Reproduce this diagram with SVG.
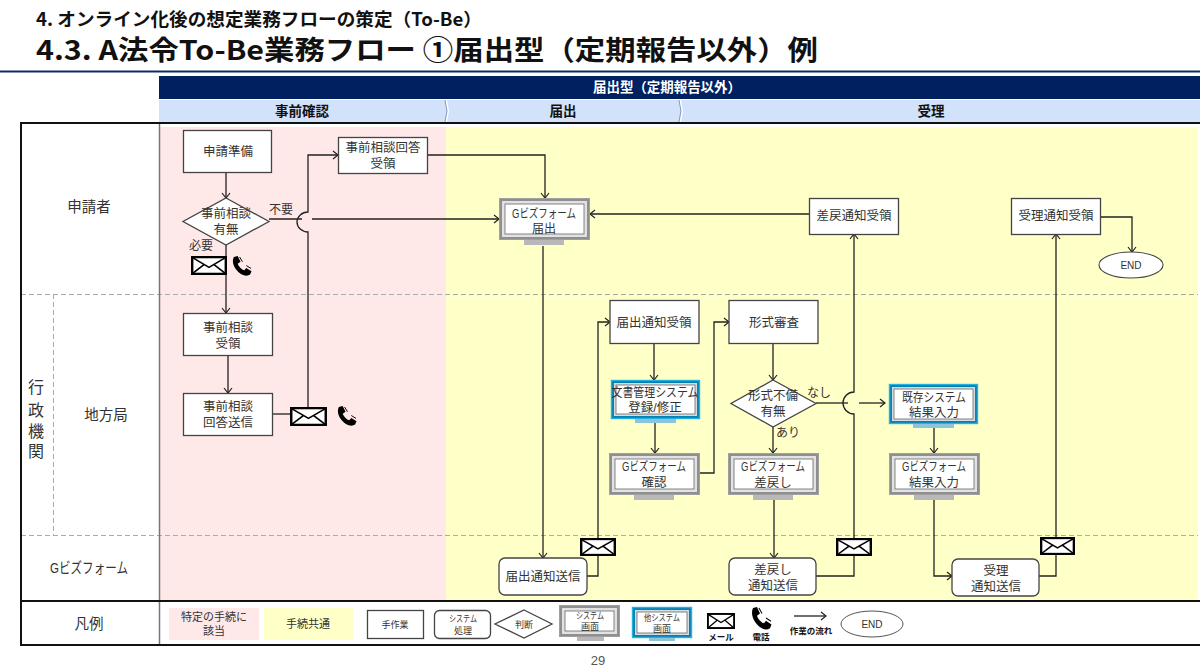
<svg xmlns="http://www.w3.org/2000/svg" xmlns:xlink="http://www.w3.org/1999/xlink" width="1200" height="669" viewBox="0 0 1200 669">
<style>
text{font-family:"Liberation Sans","Noto Sans CJK JP",sans-serif;fill:#333;text-anchor:middle;font-size:12.5px}
.lane{font-size:14.500px}
.gov{font-size:16px}
.b{font-weight:700;fill:#111;font-size:13.500px}
.sm{font-size:9px}
.tiny{font-size:8.500px;font-weight:700;fill:#111}
.t{font-family:"Noto Sans CJK JP","Noto Sans",sans-serif;text-anchor:start;font-weight:700;fill:#111}
.box{fill:#fff;stroke:#444;stroke-width:1.3}
.dash{fill:none;stroke:#aaa;stroke-width:1;stroke-dasharray:5 3}
.line{fill:none;stroke:#222;stroke-width:1.3}
.arr{marker-end:url(#a)}
.g1{fill:#8f8f8f;stroke:#a0a0a0;stroke-width:1}
.g2{fill:#e2e2e2}
.g3{fill:#fff;stroke:#666;stroke-width:.8}
.gs{fill:#b8b8b8}
.c1{fill:#0b7fb0;stroke:#1fb4e4;stroke-width:1.4}
.c2{fill:#d5dde2}
.cs{fill:#8cc4de}
.frame{fill:none;stroke:#111;stroke-width:2}
</style>
<defs>
<marker id="a" markerUnits="userSpaceOnUse" markerWidth="9" markerHeight="10" refX="7" refY="5" orient="auto"><path d="M2,1 L7,5 L2,9" fill="none" stroke="#222" stroke-width="1.2"/></marker>
<symbol id="mail" viewBox="0 0 36 20" preserveAspectRatio="none"><rect x="1.200" y="1.200" width="33.600" height="17.600" fill="#fff" stroke="#000" stroke-width="2.400"/><path d="M2,2 L18,12 L34,2 M2,18 L13,9 M34,18 L23,9" fill="none" stroke="#000" stroke-width="1.600"/></symbol>
<symbol id="phone" viewBox="0 0 22 22" preserveAspectRatio="none"><path d="M3,1 L7,0 L10,6 L7,8 C8,11 11,14 14,15 L16,12.500 L21.500,16 L20,19.500 C16,22 10,20 6,15 C2,10 1,5 3,1 Z" fill="#000"/><path d="M9,1 L12,6 M16,10 L21,13" stroke="#000" stroke-width="1" fill="none"/></symbol>
</defs>

<rect width="1200" height="669" fill="#fff"/>
<g id="title">
<text class="t" x="36" y="26" style="font-size:18px" textLength="446" lengthAdjust="spacingAndGlyphs">4. オンライン化後の想定業務フローの策定（To-Be）</text>
<text class="t" x="36" y="60" style="font-size:27px" textLength="782" lengthAdjust="spacingAndGlyphs">4.3. A法令To-Be業務フロー ①届出型（定期報告以外）例</text>
<rect x="0" y="70.500" width="1200" height="2" fill="#0a2a66"/>
</g>

<g id="header">
<rect x="159" y="76" width="1041" height="23" fill="#002060"/>
<text x="667" y="92" class="b" style="fill:#fff" textLength="148">届出型（定期報告以外）</text>
<path d="M159,100 H445 L447,111 L445,122 H159 Z" fill="#d3e2fb"/>
<path d="M447,100 H679 L681,111 L679,122 H447 L449,111 Z" fill="#d3e2fb"/>
<path d="M681,100 H1200 V122 H681 L683,111 Z" fill="#d3e2fb"/>
<path d="M445,100 L447,111 L445,122 M679,100 L681,111 L679,122" fill="none" stroke="#6b7fa8" stroke-width=".8"/>
<text x="302" y="116" class="b">事前確認</text>
<text x="563" y="116" class="b">届出</text>
<text x="931" y="116" class="b">受理</text>
</g>

<g id="background">
<rect x="160" y="127" width="286" height="473" fill="#fee8e8"/>
<rect x="446" y="127" width="752" height="473" fill="#ffffc8"/>
<path class="dash" d="M21,294.500 H1198 M21,535.500 H1198 M53.500,294 V535"/>
<path d="M159.500,123 V645" stroke="#777" stroke-width="1.500" fill="none"/>
<path class="frame" d="M1200,123 H21 V645 H1200 M21,601 H1200"/>
</g>

<g id="lanes">
<text class="lane" x="89" y="212">申請者</text>
<text class="lane" x="106" y="420">地方局</text>
<text class="gov" x="36" y="393">行</text>
<text class="gov" x="36" y="416">政</text>
<text class="gov" x="36" y="437">機</text>
<text class="gov" x="36" y="457">関</text>
<text class="lane" x="89" y="573" textLength="78" lengthAdjust="spacingAndGlyphs">Gビズフォーム</text>
<text class="lane" x="89" y="629">凡例</text>
</g>

<g id="connectors">
<path class="line arr" d="M226,173 V198"/>
<path class="line arr" d="M226,245 V313"/>
<path class="line" d="M269,219 H302"/>
<path class="line arr" d="M312,219 H499"/>
<path class="line arr" d="M308,407 V232 A11,10 0 0 1 308,212 V155 H338"/>
<path class="line arr" d="M228,356 V393"/>
<path class="line" d="M272,414 H290"/>
<path class="line arr" d="M428,155 H545 V198"/>
<path class="line arr" d="M809,214 H590"/>
<path class="line arr" d="M543,246 V558"/>
<path class="line arr" d="M587,576 H598 V322 H610"/>
<path class="line arr" d="M654,343 V380"/>
<path class="line arr" d="M655,423 V453"/>
<path class="line arr" d="M700,473 H714 V322 H729"/>
<path class="line arr" d="M773,343 V380"/>
<path class="line arr" d="M773,427 V453"/>
<path class="line" d="M816,403 H848"/>
<path class="line arr" d="M859,403 H885"/>
<path class="line arr" d="M774,500 V558"/>
<path class="line arr" d="M816,576 H854 V414 A11,11 0 0 1 854,392 V234"/>
<path class="line arr" d="M934,428 V453"/>
<path class="line arr" d="M934,500 V576 H952"/>
<path class="line arr" d="M1039,576 H1056 V234"/>
<path class="line arr" d="M1100,217 H1132 V252"/>
</g>

<g id="prep"><rect class="box" x="183.500" y="130.500" width="88" height="42"/><text x="228" y="156">申請準備</text></g>
<g id="reply-recv"><rect class="box" x="338.500" y="137.500" width="89" height="36"/><text x="383" y="152">事前相談回答<tspan x="383" dy="16">受領</tspan></text></g>
<g id="d-consult"><path class="box" d="M226,198 L269,221.500 L226,245 L183,221.500 Z"/><text x="226" y="218">事前相談<tspan x="226" dy="16">有無</tspan></text></g>
<g id="form-submit"><rect class="g1" x="499.500" y="198.500" width="90" height="41"/><rect class="g2" x="502" y="201" width="85" height="36"/><rect class="g3" x="505" y="204" width="79" height="30"/><rect class="gs" x="524" y="240" width="40" height="5"/><text x="544" y="218" textLength="64" lengthAdjust="spacingAndGlyphs">Gビズフォーム</text><text x="544" y="233" style="font-size:12px">届出</text></g>
<g id="return-recv"><rect class="box" x="809.500" y="198.500" width="89" height="36"/><text x="854" y="220">差戻通知受領</text></g>
<g id="accept-recv"><rect class="box" x="1011.500" y="198.500" width="89" height="36"/><text x="1056" y="220">受理通知受領</text></g>
<g id="end"><ellipse cx="1131" cy="265" rx="32" ry="13" fill="#fff" stroke="#444" stroke-width="1.100"/><text x="1131" y="269" style="font-size:10px">END</text></g>
<g id="consult-recv"><rect class="box" x="183.500" y="313.500" width="89" height="42"/><text x="228" y="332">事前相談<tspan x="228" dy="16">受領</tspan></text></g>
<g id="consult-reply"><rect class="box" x="183.500" y="393.500" width="89" height="42"/><text x="228" y="411">事前相談<tspan x="228" dy="16">回答送信</tspan></text></g>
<g id="notice-recv"><rect class="box" x="610" y="300.500" width="89" height="43"/><text x="654" y="327">届出通知受領</text></g>
<g id="check"><rect class="box" x="729" y="300.500" width="89" height="43"/><text x="774" y="327">形式審査</text></g>
<g id="docsys"><rect class="c1" x="611.500" y="380.500" width="88" height="38"/><rect class="c2" x="614" y="383" width="83" height="33"/><rect class="g3" x="616" y="385" width="79" height="29"/><rect class="cs" x="635" y="419" width="41" height="4"/><text x="655" y="397" textLength="87" lengthAdjust="spacingAndGlyphs">文書管理システム</text><text x="655" y="412">登録/修正</text></g>
<g id="d-check"><path class="box" d="M773,380 L816,403.500 L773,427 L731,403.500 Z"/><text x="773" y="400">形式不備<tspan x="773" dy="16">有無</tspan></text></g>
<g id="existing1"><rect class="c1" x="889.500" y="384.500" width="88" height="39"/><rect class="c2" x="892" y="387" width="83" height="34"/><rect class="g3" x="894" y="389" width="79" height="30"/><rect class="cs" x="913" y="424" width="41" height="4"/><text x="934" y="402" textLength="64" lengthAdjust="spacingAndGlyphs">既存システム</text><text x="934" y="417">結果入力</text></g>
<g id="form-confirm"><rect class="g1" x="609.500" y="453.500" width="90" height="41"/><rect class="g2" x="612" y="456" width="85" height="36"/><rect class="g3" x="615" y="459" width="79" height="30"/><rect class="gs" x="634" y="495" width="40" height="5"/><text x="654" y="471" textLength="64" lengthAdjust="spacingAndGlyphs">Gビズフォーム</text><text x="654" y="487">確認</text></g>
<g id="form-return"><rect class="g1" x="728.500" y="453.500" width="90" height="41"/><rect class="g2" x="731" y="456" width="85" height="36"/><rect class="g3" x="734" y="459" width="79" height="30"/><rect class="gs" x="753" y="495" width="40" height="5"/><text x="773" y="471" textLength="64" lengthAdjust="spacingAndGlyphs">Gビズフォーム</text><text x="773" y="487">差戻し</text></g>
<g id="form-result"><rect class="g1" x="889.500" y="453.500" width="90" height="41"/><rect class="g2" x="892" y="456" width="85" height="36"/><rect class="g3" x="895" y="459" width="79" height="30"/><rect class="gs" x="914" y="495" width="40" height="5"/><text x="934" y="471" textLength="64" lengthAdjust="spacingAndGlyphs">Gビズフォーム</text><text x="934" y="487">結果入力</text></g>
<g id="notice-send"><rect class="box" x="499" y="558" width="88" height="37" rx="6"/><text x="543" y="581">届出通知送信</text></g>
<g id="return-send"><rect class="box" x="729" y="558" width="87" height="37" rx="6"/><text x="773" y="574">差戻し<tspan x="773" dy="15.500">通知送信</tspan></text></g>
<g id="accept-send"><rect class="box" x="952" y="559" width="87" height="37" rx="6"/><text x="996" y="575">受理<tspan x="996" dy="15.500">通知送信</tspan></text></g>

<g id="labels">
<text x="281" y="214" style="font-size:12px">不要</text>
<text x="201" y="250" style="font-size:12px">必要</text>
<text x="819" y="397" style="font-size:12px">なし</text>
<text x="788" y="437" style="font-size:12px">あり</text>
</g>
<g id="icons">
<use xlink:href="#mail" href="#mail" x="191" y="256" width="36" height="19"/>
<use xlink:href="#phone" href="#phone" x="231" y="256" width="21" height="21"/>
<use xlink:href="#mail" href="#mail" x="290" y="407" width="37" height="19"/>
<use xlink:href="#phone" href="#phone" x="336" y="406" width="21" height="21"/>
<use xlink:href="#mail" href="#mail" x="580" y="538" width="36" height="18"/>
<use xlink:href="#mail" href="#mail" x="836" y="538" width="36" height="18"/>
<use xlink:href="#mail" href="#mail" x="1040" y="537" width="35" height="18"/>
</g>

<g id="legend">
<rect x="169" y="608" width="90" height="32" fill="#fee8e8"/><text x="214" y="621" style="font-size:11px">特定の手続に<tspan x="214" dy="14">該当</tspan></text>
<rect x="264" y="608" width="89" height="32" fill="#ffffc8"/><text x="308" y="628" style="font-size:11px">手続共通</text>
<rect class="box" x="367.500" y="610.500" width="56" height="28"/><text class="sm" x="395" y="628">手作業</text>
<rect class="box" x="434.500" y="610.500" width="56" height="28" rx="5"/><text class="sm" x="463" y="622" textLength="28" lengthAdjust="spacingAndGlyphs">システム</text><text class="sm" x="463" y="634">処理</text>
<path class="box" d="M524,610 L552,624 L524,638 L495,624 Z"/><text class="sm" x="524" y="628">判断</text>
<rect class="g1" x="559.500" y="605.500" width="60" height="31"/><rect class="g2" x="562" y="608" width="55" height="26"/><rect class="g3" x="565" y="611" width="49" height="20"/><rect class="gs" x="577" y="637" width="27" height="4"/><text class="sm" x="590" y="619" textLength="28" lengthAdjust="spacingAndGlyphs">システム</text><text class="sm" x="590" y="630">画面</text>
<rect class="c1" x="632.500" y="607.500" width="59" height="30"/><rect class="c2" x="635" y="610" width="54" height="25"/><rect class="g3" x="637" y="612" width="50" height="21"/><rect class="cs" x="649" y="638" width="26" height="3"/><text class="sm" x="662" y="621" textLength="36" lengthAdjust="spacingAndGlyphs">他システム</text><text class="sm" x="662" y="632">画面</text>
<use xlink:href="#mail" href="#mail" x="707" y="613" width="28" height="16"/>
<text class="tiny" x="721" y="640">メール</text>
<use xlink:href="#phone" href="#phone" x="750" y="607" width="22" height="24"/>
<text class="tiny" x="761" y="640">電話</text>
<path class="line arr" d="M794,616 H826"/>
<text class="tiny" x="811" y="634">作業の流れ</text>
<ellipse cx="872" cy="624" rx="31" ry="13" fill="#fff" stroke="#555" stroke-width="1"/><text x="872" y="628" style="font-size:10px">END</text>
</g>
<text x="598" y="665" style="font-size:13px;fill:#555">29</text>
</svg>
